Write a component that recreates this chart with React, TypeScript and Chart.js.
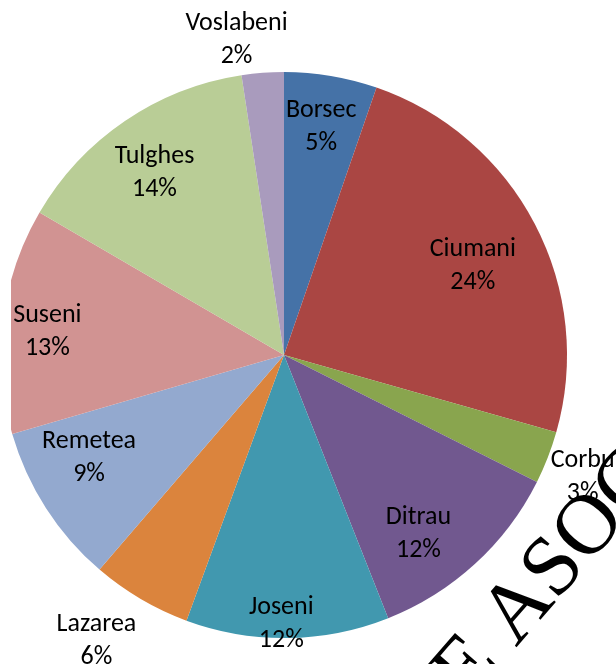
import React, { useEffect, useRef } from "react";
import { Chart, registerables } from "chart.js";

Chart.register(...registerables);

const categories = ["Borsec", "Ciumani", "Corbu", "Ditrau", "Joseni", "Lazarea", "Remetea", "Suseni", "Tulghes", "Voslabeni"];
const shares = [5.3, 24.1, 3.0, 11.6, 11.6, 5.7, 9.2, 12.9, 14.2, 2.4];
const colors = ["#4572A7", "#AA4643", "#89A54E", "#71588F", "#4198AF", "#DB843D", "#93A9CF", "#D19392", "#B9CD96", "#A99BBD"];
const watermarkText = "E ASOC";

// label placement: [angle offset from slice middle (deg), distance as fraction of radius]
const labelPlacement: [number, number][] = [
  [-0.3, 0.818],
  [2.4, 0.737],
  [1.0, 1.14],
  [5.5, 0.79],
  [1.3, 0.95],
  [2.8, 1.21],
  [4.8, 0.78],
  [-1.5, 0.84],
  [-1.2, 0.79],
  [-4.25, 1.125],
];

const LABEL_FONT = "26px Carlito, Calibri, Lato, sans-serif";

const clipPlugin = {
  id: "leftClip",
  beforeDatasetsDraw(chart: any) {
    const ctx = chart.ctx;
    ctx.save();
    ctx.beginPath();
    ctx.rect(11, 0, chart.width, chart.height);
    ctx.clip();
  },
  afterDatasetsDraw(chart: any) {
    chart.ctx.restore();
  },
};

const labelPlugin = {
  id: "sliceLabels",
  afterDraw(chart: any) {
    const ctx = chart.ctx;
    const meta = chart.getDatasetMeta(0);
    const data = chart.data.datasets[0].data as number[];
    const total = data.reduce((a, b) => a + b, 0);
    ctx.save();
    ctx.font = LABEL_FONT;
    ctx.fillStyle = "#000";
    ctx.textAlign = "center";
    ctx.textBaseline = "middle";
    meta.data.forEach((arc: any, i: number) => {
      const p = arc.getProps(["x", "y", "startAngle", "endAngle", "outerRadius"], true);
      const [off, frac] = labelPlacement[i];
      const a = (p.startAngle + p.endAngle) / 2 + (off * Math.PI) / 180;
      const d = frac * p.outerRadius;
      const cx = p.x + Math.cos(a) * d;
      const cy = p.y + Math.sin(a) * d;
      const pct = Math.round((data[i] / total) * 100) + "%";
      ctx.fillText(chart.data.labels[i], cx, cy - 16.5);
      ctx.fillText(pct, cx, cy + 16.5);
    });
    ctx.restore();

    // watermark
    ctx.save();
    ctx.translate(468, 703);
    ctx.rotate((-49 * Math.PI) / 180);
    ctx.font = "85px 'Liberation Serif', 'Times New Roman', serif";
    ctx.fillStyle = "#000";
    ctx.textAlign = "left";
    ctx.textBaseline = "alphabetic";
    ctx.fillText(watermarkText, 0, 0);
    ctx.restore();
  },
};

export default function App() {
  const ref = useRef<HTMLCanvasElement | null>(null);
  useEffect(() => {
    if (!ref.current) return;
    const chart = new Chart(ref.current, {
      type: "pie",
      data: {
        labels: categories,
        datasets: [
          {
            data: shares,
            backgroundColor: colors,
            borderWidth: 0,
          },
        ],
      },
      options: {
        responsive: false,
        animation: false,
        layout: { padding: { left: 1, right: 49, top: 72, bottom: 26 } },
        plugins: {
          legend: { display: false },
          tooltip: { enabled: false },
        },
      },
      plugins: [clipPlugin, labelPlugin],
    });
    return () => chart.destroy();
  }, []);
  return (
    <div style={{ position: "absolute", left: 0, top: 0, width: 616, height: 664, background: "#fff", overflow: "hidden" }}>
      <canvas ref={ref} width={616} height={664} style={{ width: 616, height: 664 }} />
    </div>
  );
}
